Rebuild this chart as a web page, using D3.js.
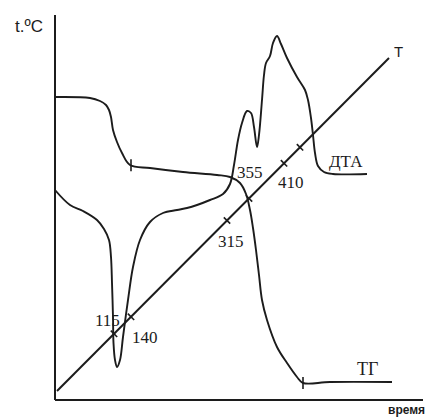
<!DOCTYPE html>
<html>
<head>
<meta charset="utf-8">
<script src="https://cdn.jsdelivr.net/npm/d3@7"></script>
<style>
  html, body { margin: 0; padding: 0; background: #fff; }
  svg { display: block; }
</style>
</head>
<body>
<script>
// ---- data (time in arbitrary units, signal in arbitrary units) ----
const tgTime  = [0, 35, 45, 51, 54, 56, 58, 62, 67, 75, 95, 128, 162, 175, 185, 191, 195, 198, 201, 204, 207, 212, 222, 232, 242, 248, 275, 337];
const tgValue = [303, 302, 299, 295, 290, 283, 270, 258, 247, 235, 232, 228, 225, 223, 217, 206, 190, 172, 150, 125, 100, 80, 53, 37, 23, 17, 18, 18];

const dtaTime  = [0, 15, 28, 42, 49, 54, 56, 57, 58, 58.5, 60, 62, 65, 68, 73, 78, 85, 95, 108, 122, 132, 142, 155, 168, 175, 179, 183, 187, 192, 196, 199, 202, 204, 207, 209, 211, 215, 218, 222, 226, 232, 242, 250, 253, 256, 258, 260, 263, 269, 278, 312];
const dtaValue = [210, 195, 189, 180, 171, 160, 143, 117, 83, 57, 40, 33, 40, 63, 100, 133, 160, 178, 187, 190, 192, 195, 200, 206, 216, 235, 260, 277, 289, 287, 273, 253, 265, 300, 325, 337, 344, 357, 364, 356, 342, 323, 310, 300, 282, 265, 247, 234, 228, 226, 226];

const tTime  = [2, 334];
const tValue = [9, 342];

const markTime   = [59, 76, 172, 194, 229, 245];
const markLabels = ["115", "140", "315", "355", "410", ""];

const tgTickTime = [76, 248];

// ---- layout ----
const W = 430, H = 417;
const x = d3.scaleLinear().domain([0, 370]).range([55, 425]);
const y = d3.scaleLinear().domain([0, 385]).range([400, 15]);
const ink = "#1c1c1c";

const svg = d3.select("body").append("svg").attr("width", W).attr("height", H);

// axes (no ticks)
const xAxis = d3.axisBottom(x).tickValues([]).tickSizeOuter(0);
const yAxis = d3.axisLeft(y).tickValues([]).tickSizeOuter(0);
svg.append("g").attr("transform", `translate(0,${y(0)})`).call(xAxis)
  .call(g => g.select(".domain").attr("stroke", ink).attr("stroke-width", 2).attr("d", `M${x(0)},0H${x(368)}`));
svg.append("g").attr("transform", `translate(${x(0)},0)`).call(yAxis)
  .call(g => g.select(".domain").attr("stroke", ink).attr("stroke-width", 2).attr("d", `M0,${y(385)}V${y(0)}`));

const line = d3.line().x(d => x(d[0])).y(d => y(d[1])).curve(d3.curveCatmullRom.alpha(0.5));

function draw(ts, vs) {
  svg.append("path").datum(ts.map((t, i) => [t, vs[i]]))
    .attr("d", line).attr("fill", "none").attr("stroke", ink)
    .attr("stroke-width", 1.9).attr("stroke-linejoin", "round");
}
draw(tgTime, tgValue);
draw(dtaTime, dtaValue);

// temperature line
svg.append("path").datum(tTime.map((t, i) => [t, tValue[i]]))
  .attr("d", d3.line().x(d => x(d[0])).y(d => y(d[1])))
  .attr("fill", "none").attr("stroke", ink).attr("stroke-width", 2);

// ticks on T line
const tLin = d3.scaleLinear().domain(tTime).range(tValue);
const dx = x(tTime[1]) - x(tTime[0]), dy = y(tValue[1]) - y(tValue[0]);
const len = Math.hypot(dx, dy);
const nx = -dy / len, ny = dx / len; // perpendicular
const labelOffsets = [[-19, -8], [1, 26], [-9, 27], [-12, -20], [-6, 25], [0, 0]];
markTime.forEach((t, i) => {
  const px = x(t), py = y(tLin(t));
  svg.append("line")
    .attr("x1", px - nx * 4.5).attr("y1", py - ny * 4.5)
    .attr("x2", px + nx * 4.5).attr("y2", py + ny * 4.5)
    .attr("stroke", ink).attr("stroke-width", 1.6);
  if (markLabels[i]) {
    svg.append("text").attr("x", px + labelOffsets[i][0]).attr("y", py + labelOffsets[i][1])
      .attr("font-family", "Liberation Serif, serif").attr("font-size", 17)
      .attr("fill", ink).text(markLabels[i]);
  }
});

// ticks on TG curve
const tgInterp = d3.scaleLinear().domain(tgTime).range(tgValue);
tgTickTime.forEach(t => {
  const px = x(t), py = y(tgInterp(t));
  svg.append("line").attr("x1", px).attr("x2", px).attr("y1", py - 6).attr("y2", py + 6)
    .attr("stroke", ink).attr("stroke-width", 1.6);
});

// texts
svg.append("text").attr("x", 15).attr("y", 32)
  .attr("font-family", "Liberation Sans, Arial, sans-serif").attr("font-size", 17)
  .attr("fill", ink).text("t.ºC");
svg.append("text").attr("x", 398.5).attr("y", 57).attr("text-anchor", "middle")
  .attr("font-family", "Liberation Sans, Arial, sans-serif").attr("font-size", 15)
  .attr("fill", ink).text("T");
svg.append("text").attr("x", 329).attr("y", 167)
  .attr("font-family", "Liberation Serif, serif").attr("font-size", 17)
  .attr("fill", ink).text("ДТА");
svg.append("text").attr("x", 357).attr("y", 375)
  .attr("font-family", "Liberation Serif, serif").attr("font-size", 18)
  .attr("fill", ink).text("ТГ");
svg.append("text").attr("x", 388).attr("y", 414)
  .attr("font-family", "Liberation Sans, Arial, sans-serif").attr("font-size", 12).attr("font-weight", "bold")
  .attr("fill", ink).text("время");
</script>
</body>
</html>
